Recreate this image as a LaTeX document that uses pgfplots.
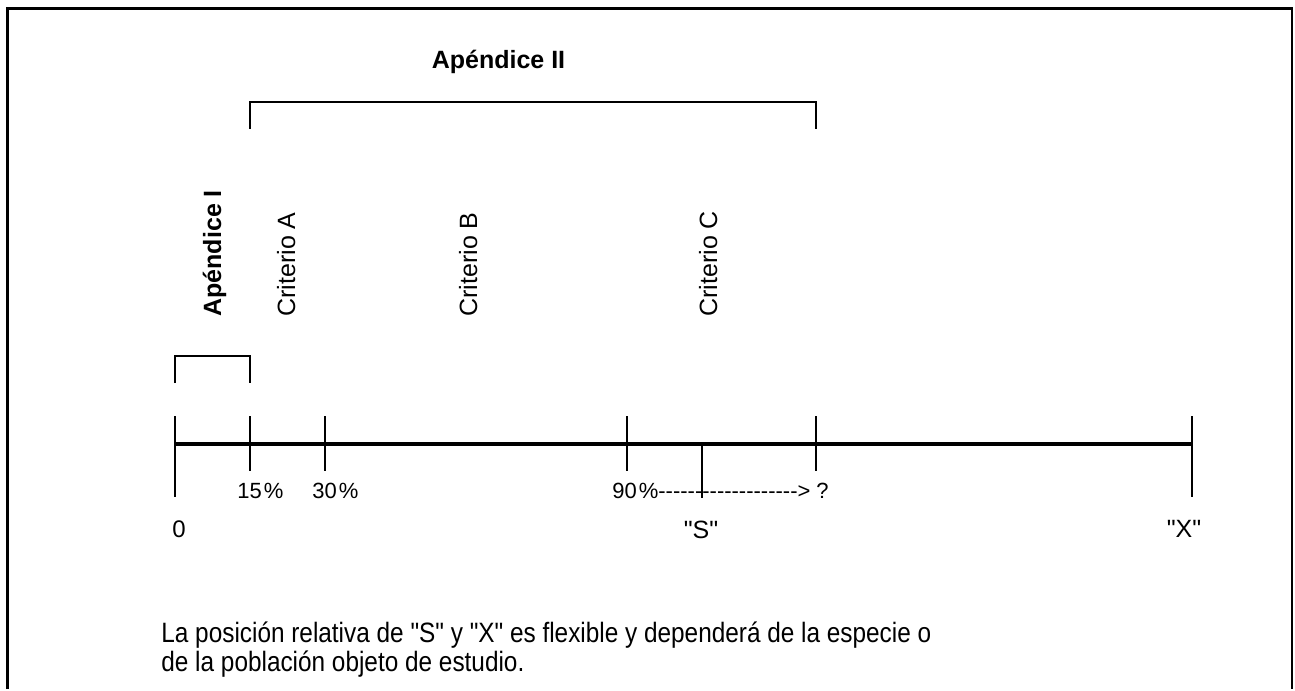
\documentclass[border=0pt]{standalone}
\usepackage{fontspec}
\setmainfont{Liberation Sans}
\newfontfamily\plainfont{Liberation Sans}
\newfontfamily\narrowfont[FakeStretch=0.87]{Liberation Sans}
\usepackage{pgfplots}
\pgfplotsset{compat=1.18}
\begin{document}
\begin{tikzpicture}
\begin{axis}[width=647.5pt,height=344.5pt,scale only axis,
  xmin=0,xmax=1295,ymin=0,ymax=689,y dir=reverse,hide axis,clip=false]
\addplot[draw=none] coordinates {(0,0) (1295,689)};
% frame
\addplot[black,line width=1.3pt] coordinates {(7.5,689) (7.5,8.5) (1292,8.5) (1292,689)};
% main line
\addplot[black,line width=2.2pt] coordinates {(175,444) (1192,444)};
% ticks
\addplot[black,line width=1pt] coordinates {(175,416) (175,497)};
\addplot[black,line width=1pt] coordinates {(249.5,416) (249.5,471)};
\addplot[black,line width=1pt] coordinates {(324.5,416) (324.5,471)};
\addplot[black,line width=1pt] coordinates {(626.5,416) (626.5,471)};
\addplot[black,line width=1pt] coordinates {(702,444) (702,498)};
\addplot[black,line width=1pt] coordinates {(816,416) (816,471)};
\addplot[black,line width=1pt] coordinates {(1192,416) (1192,497)};
% brackets
\addplot[black,line width=1pt] coordinates {(175,383) (175,356) (249.5,356) (249.5,383)};
\addplot[black,line width=1pt] coordinates {(249.5,129) (249.5,102) (816,102) (816,129)};
% texts
\node[anchor=base,inner sep=0] at (axis cs:498.5,69) {\fontsize{12.5}{15}\selectfont\bfseries Apéndice II};
\node[rotate=90,anchor=base west,inner sep=0] at (axis cs:221,317) {\fontsize{12.5}{15}\selectfont\bfseries Apéndice I};
\node[rotate=90,anchor=base west,inner sep=0] at (axis cs:295,317) {\fontsize{12.5}{15}\selectfont Criterio A};
\node[rotate=90,anchor=base west,inner sep=0] at (axis cs:477,317) {\fontsize{12.5}{15}\selectfont Criterio B};
\node[rotate=90,anchor=base west,inner sep=0] at (axis cs:717,317) {\fontsize{12.5}{15}\selectfont Criterio C};
\node[anchor=base west,inner sep=0] at (axis cs:237,498) {\fontsize{11}{13}\selectfont 15\kern1pt\%};
\node[anchor=base west,inner sep=0] at (axis cs:312,498) {\fontsize{11}{13}\selectfont 30\kern1pt\%};
\node[anchor=base west,inner sep=0] at (axis cs:612,498) {\fontsize{11}{13}\selectfont 90\kern1pt\%{-}{-}{-}{-}{-}{-}{-}{-}{-}{-}{-}{-}{-}{-}{-}{-}{-}{-}{-}>\kern3pt?};
\node[anchor=base,inner sep=0] at (axis cs:179,537) {\fontsize{12}{14}\selectfont 0};
\node[anchor=base,inner sep=0] at (axis cs:701,538) {\plainfont\fontsize{12.5}{15}\selectfont "S"};
\node[anchor=base,inner sep=0] at (axis cs:1184,537) {\plainfont\fontsize{12.5}{15}\selectfont "X"};
\node[anchor=base west,inner sep=0] at (axis cs:161,642) {\narrowfont\fontsize{14}{16}\selectfont La posición relativa de "S" y "X" es flexible y dependerá de la especie o};
\node[anchor=base west,inner sep=0] at (axis cs:161,671) {\narrowfont\fontsize{14}{16}\selectfont de la población objeto de estudio.};
\end{axis}
\end{tikzpicture}
\end{document}
